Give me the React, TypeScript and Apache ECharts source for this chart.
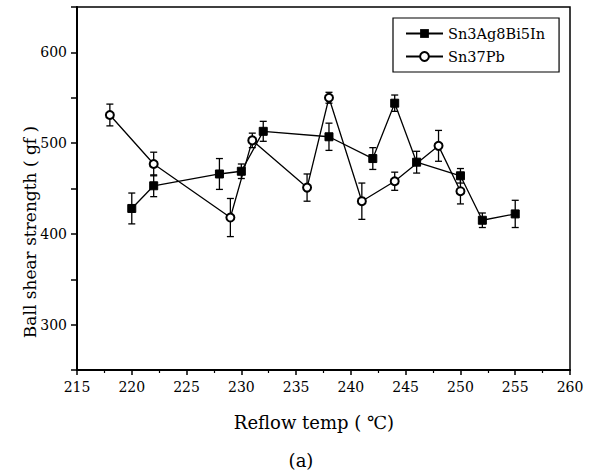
import React, { useEffect, useRef } from "react";
import * as echarts from "echarts";

// Sn3Ag8Bi5In (filled squares)
const snAgTemps = [220, 222, 228, 230, 232, 238, 242, 244, 246, 250, 252, 255];
const snAgValues = [428, 453, 466, 469, 513, 507, 483, 544, 479, 464, 415, 422];
const snAgErrors = [17, 12, 17, 8, 11, 15, 12, 9, 12, 8, 8, 15];

// Sn37Pb (open circles)
const snPbTemps = [218, 222, 229, 231, 236, 238, 241, 244, 248, 250];
const snPbValues = [531, 477, 418, 503, 451, 550, 436, 458, 497, 447];
const snPbErrors = [12, 13, 21, 8, 15, 6, 20, 10, 17, 14];

const xTicks = { min: 215, max: 260, interval: 5 };
const yTicks = { min: 250, max: 650, interval: 50 };
const yLabelValues = [300, 400, 500, 600];

const FONT = '"DejaVu Serif", "Liberation Serif", serif';

function errorSeries(name: string, temps: number[], vals: number[], errs: number[]) {
  return {
    name,
    type: "custom",
    z: 1,
    silent: true,
    encode: { x: 0, y: [1, 2] },
    data: temps.map((t, i) => [t, vals[i] - errs[i], vals[i] + errs[i]]),
    renderItem: (_params: any, api: any) => {
      const x = api.value(0);
      const lo = api.coord([x, api.value(1)]);
      const hi = api.coord([x, api.value(2)]);
      const w = 3.5;
      const style = { stroke: "#000", lineWidth: 1.3 };
      return {
        type: "group",
        children: [
          { type: "line", shape: { x1: hi[0], y1: hi[1], x2: lo[0], y2: lo[1] }, style },
          { type: "line", shape: { x1: hi[0] - w, y1: hi[1], x2: hi[0] + w, y2: hi[1] }, style },
          { type: "line", shape: { x1: lo[0] - w, y1: lo[1], x2: lo[0] + w, y2: lo[1] }, style },
        ],
      };
    },
  };
}

export default function App() {
  const ref = useRef<HTMLDivElement>(null);
  useEffect(() => {
    document.body.style.margin = "0";
    const chart = echarts.init(ref.current!, null, { renderer: "svg" });
    const textStyle = (text: string, size: number) => ({
      text,
      font: `${size}px ${FONT}`,
      fill: "#000",
      textAlign: "center",
      textVerticalAlign: "middle",
      align: "center",
      verticalAlign: "middle",
    });
    chart.setOption({
      animation: false,
      backgroundColor: "#fff",
      grid: {
        left: 77,
        right: 23,
        top: 7,
        bottom: 103,
        show: true,
        borderColor: "#000",
        borderWidth: 1.5,
        outerBoundsMode: "none",
      },
      legend: {
        data: ["Sn3Ag8Bi5In", "Sn37Pb"],
        orient: "vertical",
        left: 393,
        top: 18,
        itemWidth: 37,
        itemHeight: 11,
        itemGap: 8,
        padding: [8, 14, 8, 12],
        borderColor: "#000",
        borderWidth: 1.2,
        backgroundColor: "#fff",
        textStyle: { fontFamily: FONT, fontSize: 14.5, color: "#000" },
      },
      xAxis: {
        type: "value",
        min: xTicks.min,
        max: xTicks.max,
        interval: xTicks.interval,
        axisLine: { lineStyle: { color: "#000", width: 2 } },
        axisTick: { length: 5, lineStyle: { color: "#000", width: 1.5 } },
        minorTick: { show: true, splitNumber: 2, length: 3, lineStyle: { color: "#000", width: 1.2 } },
        splitLine: { show: false },
        axisLabel: { color: "#000", fontFamily: FONT, fontSize: 14, margin: 10 },
      },
      yAxis: {
        type: "value",
        min: yTicks.min,
        max: yTicks.max,
        interval: yTicks.interval,
        axisLine: { show: true, lineStyle: { color: "#000", width: 2 } },
        axisTick: { show: true, length: 6, lineStyle: { color: "#000", width: 1.5 } },
        splitLine: { show: false },
        axisLabel: {
          color: "#000",
          fontFamily: FONT,
          fontSize: 14,
          margin: 10,
          formatter: (v: number) => (yLabelValues.includes(v) ? String(v) : ""),
        },
      },
      graphic: [
        {
          type: "text",
          x: 30,
          y: 232,
          rotation: Math.PI / 2,
          style: textStyle("Ball shear strength ( gf )", 17),
        },
        {
          type: "text",
          x: 314,
          y: 422,
          style: textStyle("Reflow temp ( ℃)", 18),
        },
        {
          type: "text",
          x: 301,
          y: 460,
          style: textStyle("(a)", 18),
        },
      ],
      series: [
        errorSeries("errA", snAgTemps, snAgValues, snAgErrors),
        errorSeries("errB", snPbTemps, snPbValues, snPbErrors),
        {
          name: "Sn3Ag8Bi5In",
          type: "line",
          z: 3,
          data: snAgTemps.map((t, i) => [t, snAgValues[i]]),
          symbol: "rect",
          symbolSize: 8,
          lineStyle: { color: "#000", width: 1.3 },
          itemStyle: { color: "#000", borderColor: "#000" },
        },
        {
          name: "Sn37Pb",
          type: "line",
          z: 3,
          data: snPbTemps.map((t, i) => [t, snPbValues[i]]),
          symbol: "emptyCircle",
          symbolSize: 8,
          lineStyle: { color: "#000", width: 1.3 },
          itemStyle: { color: "#000", borderColor: "#000", borderWidth: 1.2 },
        },
      ],
    });
    return () => chart.dispose();
  }, []);
  return (
    <div
      ref={ref}
      style={{ position: "fixed", left: 0, top: 0, width: 593, height: 473 }}
    />
  );
}
